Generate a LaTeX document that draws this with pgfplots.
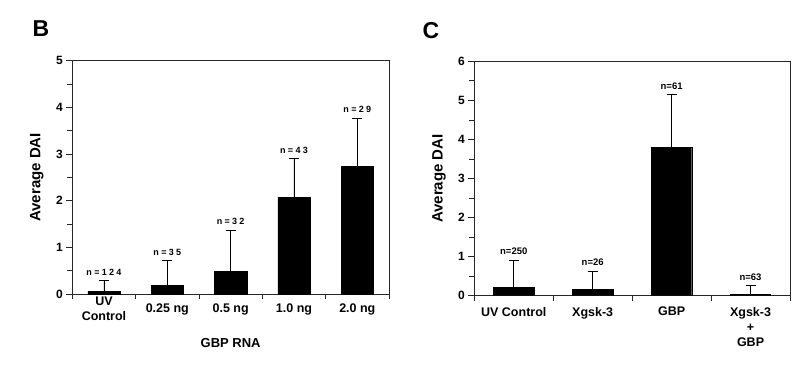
\documentclass[border=0pt]{standalone}
\usepackage{fontspec}
\setmainfont{Liberation Sans}
\usepackage{pgfplots}
\pgfplotsset{compat=1.18}
\newcommand\lsp{\kern2.3pt}

% B: x  mean  err(upper)  cap
\pgfplotstableread{
x mean err cap lab
0 0.06 0.22 0.28 {n\lsp=\lsp1\lsp2\lsp4}
1 0.18 0.54 0.72 {n\lsp=\lsp3\lsp5}
2 0.49 0.88 1.37 {n\lsp=\lsp3\lsp2}
3 2.07 0.83 2.90 {n\lsp=\lsp4\lsp3}
4 2.73 1.04 3.77 {n\lsp=\lsp2\lsp9}
}\tableB
% C
\pgfplotstableread{
x mean err cap lab
0 0.21 0.70 0.91 n=250
1 0.17 0.46 0.63 n=26
2 3.80 1.34 5.14 n=61
3 0.04 0.21 0.25 n=63
}\tableC

\pgfplotsset{
  panel/.style={
    scale only axis,
    axis line style={line width=0.9pt, black!85},
    tick align=outside, ytick pos=left, xtick pos=bottom,
    major tick length=6pt, minor tick length=5pt,
    every tick/.style={line width=0.8pt, black!85},
    minor y tick num=1,
    ymin=0,
    major x tick style={draw=none},
    ticklabel style={font=\fontsize{12.5}{15}\selectfont\bfseries},
    yticklabel style={font=\fontsize{12}{14}\selectfont\bfseries},
    /pgf/number format/assume math mode=true,
    ylabel={Average DAI},
    every axis y label/.style={rotate=90, anchor=center, font=\fontsize{15}{17}\selectfont\bfseries},
    xtick=data,
  },
  bars/.style={ybar, bar width=0.51, fill=black, draw=black,
    error bars/.cd, y dir=plus, y explicit,
    error bar style={line width=0.9pt, black},
    error mark options={rotate=90, mark size=5pt, line width=0.9pt, black}},
}

\begin{document}
\begin{tikzpicture}
\node[font=\fontsize{23}{26}\selectfont\bfseries] at (41pt,-29pt) {B};
\node[font=\fontsize{23}{26}\selectfont\bfseries] at (431pt,-31pt) {C};

\begin{axis}[panel,
  at={(72.3pt,-294pt)}, anchor=south west,
  width=316.7pt, height=233.3pt,
  xmin=-0.5, xmax=4.5, ymax=5,
  ytick={0,1,2,3,4,5},
  minor xtick={-0.5,0.5,1.5,2.5,3.5,4.5},
  xticklabels={{UV\\Control},{0.25 ng},{0.5 ng},{1.0 ng},{2.0 ng}},
  xticklabel style={align=center, anchor=center, yshift=-9pt},
  y label style={at={(axis description cs:-0.112,0.5)}},
  xlabel={GBP RNA},
  every axis x label/.style={at={(axis description cs:0.5,-0.21)}, anchor=center, font=\fontsize{13}{15}\selectfont\bfseries},
]
\addplot[bars] table[x=x, y=mean, y error=err] {\tableB};
\addplot[draw=none, mark=none, nodes near coords, point meta=explicit symbolic,
  nodes near coords style={anchor=south, inner sep=0pt, yshift=5pt, font=\fontsize{9}{10}\selectfont\bfseries}]
  table[x=x, y=cap, meta=lab] {\tableB};
\end{axis}

\begin{axis}[panel,
  at={(474.3pt,-295.7pt)}, anchor=south west,
  width=315.7pt, height=234.4pt,
  xmin=-0.5, xmax=3.5, ymax=6,
  ytick={0,1,2,3,4,5,6},
  minor xtick={-0.5,0.5,1.5,2.5,3.5},
  xticklabels={{UV Control},{Xgsk-3},{GBP},{Xgsk-3\\+\\GBP}},
  xticklabel style={align=center, anchor=north, yshift=-2pt},
  y label style={at={(axis description cs:-0.112,0.5)}},
]
\addplot[bars] table[x=x, y=mean, y error=err] {\tableC};
\addplot[draw=none, mark=none, nodes near coords, point meta=explicit symbolic,
  nodes near coords style={anchor=south, inner sep=0pt, yshift=5pt, font=\fontsize{9.5}{11}\selectfont\bfseries}]
  table[x=x, y=cap, meta=lab] {\tableC};
\end{axis}

\pgfresetboundingbox
\path[use as bounding box] (0pt,0pt) rectangle (805pt,-366pt);
\end{tikzpicture}
\end{document}
